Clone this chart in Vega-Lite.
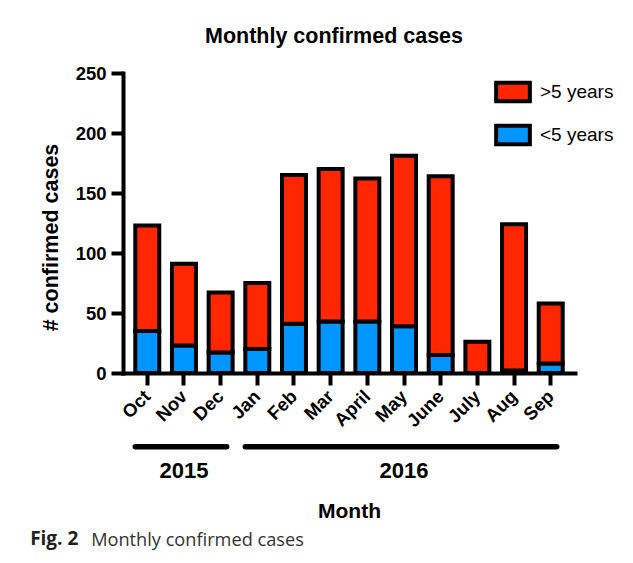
{
  "$schema": "https://vega.github.io/schema/vega-lite/v6.json",
  "padding": {"left": 30, "top": 25, "right": 5, "bottom": 5},
  "background": "white",
  "config": {
    "font": "Liberation Sans",
    "view": {"stroke": null},
    "concat": {"spacing": 0}
  },
  "datasets": {
    "cases": [
      {"month": "Oct", "group": "<5 years", "cases": 35},
      {"month": "Oct", "group": ">5 years", "cases": 88},
      {"month": "Nov", "group": "<5 years", "cases": 23},
      {"month": "Nov", "group": ">5 years", "cases": 68},
      {"month": "Dec", "group": "<5 years", "cases": 17},
      {"month": "Dec", "group": ">5 years", "cases": 50},
      {"month": "Jan", "group": "<5 years", "cases": 20},
      {"month": "Jan", "group": ">5 years", "cases": 55},
      {"month": "Feb", "group": "<5 years", "cases": 41},
      {"month": "Feb", "group": ">5 years", "cases": 124},
      {"month": "Mar", "group": "<5 years", "cases": 43},
      {"month": "Mar", "group": ">5 years", "cases": 127},
      {"month": "April", "group": "<5 years", "cases": 43},
      {"month": "April", "group": ">5 years", "cases": 119},
      {"month": "May", "group": "<5 years", "cases": 39},
      {"month": "May", "group": ">5 years", "cases": 142},
      {"month": "June", "group": "<5 years", "cases": 15},
      {"month": "June", "group": ">5 years", "cases": 149},
      {"month": "July", "group": "<5 years", "cases": 0},
      {"month": "July", "group": ">5 years", "cases": 26},
      {"month": "Aug", "group": "<5 years", "cases": 2},
      {"month": "Aug", "group": ">5 years", "cases": 122},
      {"month": "Sep", "group": "<5 years", "cases": 8},
      {"month": "Sep", "group": ">5 years", "cases": 50}
    ],
    "years": [
      {"year": "2015", "first": "Oct", "last": "Dec", "mid": "Nov"},
      {"year": "2016", "first": "Jan", "last": "Sep", "mid": "May"}
    ]
  },
  "title": {
    "text": "Fig. 2",
    "orient": "bottom",
    "anchor": "start",
    "frame": "bounds",
    "font": "Open Sans",
    "fontWeight": "bold",
    "fontSize": 19,
    "color": "#231F20",
    "baseline": "alphabetic",
    "dx": -10,
    "offset": -4
  },
  "vconcat": [
    {
      "title": {
        "text": "Monthly confirmed cases",
        "orient": "bottom",
        "anchor": "start",
        "frame": "bounds",
        "font": "Open Sans",
        "fontWeight": "normal",
        "fontSize": 18.2,
        "color": "#333333",
        "baseline": "alphabetic",
        "dx": 51,
        "offset": 25
      },
      "vconcat": [
        {
          "title": {
            "text": "Monthly confirmed cases",
            "font": "Liberation Sans",
            "fontSize": 21.5,
            "fontWeight": "bold",
            "color": "black",
            "anchor": "middle",
            "frame": "group",
            "baseline": "alphabetic",
            "dx": -15,
            "offset": 0
          },
          "width": 452,
          "height": 300,
          "layer": [
            {
              "data": {"name": "cases"},
              "mark": {"type": "bar", "stroke": "black", "strokeWidth": 4, "strokeJoin": "miter"},
              "encoding": {
                "x": {
                  "field": "month",
                  "type": "nominal",
                  "title": "Month",
                  "scale": {
                    "domain": ["Oct", "Nov", "Dec", "Jan", "Feb", "Mar", "April", "May", "June", "July", "Aug", "Sep"],
                    "paddingInner": 0.346,
                    "paddingOuter": 0.335
                  },
                  "axis": {
                    "title": "Month",
                    "domainColor": "black",
                    "domainWidth": 4,
                    "domainCap": "square",
                    "tickColor": "black",
                    "tickWidth": 4,
                    "tickSize": 12,
                    "labelAngle": -45,
                    "labelAlign": "right",
                    "labelBaseline": "middle",
                    "labelFontSize": 18.5,
                    "labelFontWeight": "bold",
                    "labelColor": "black",
                    "labelPadding": 8,
                    "titleFontSize": 21,
                    "titleFontWeight": "bold",
                    "titleColor": "black",
                    "titlePadding": 70
                  }
                },
                "y": {
                  "field": "cases",
                  "type": "quantitative",
                  "title": "# confirmed cases",
                  "stack": "zero",
                  "scale": {"domain": [0, 250], "nice": false},
                  "axis": {
                    "title": "# confirmed cases",
                    "values": [0, 50, 100, 150, 200, 250],
                    "grid": false,
                    "domainColor": "black",
                    "domainWidth": 4,
                    "domainCap": "square",
                    "tickColor": "black",
                    "tickWidth": 4,
                    "tickSize": 12,
                    "labelFontSize": 18.5,
                    "labelFontWeight": "bold",
                    "labelColor": "black",
                    "labelPadding": 5,
                    "labelFlush": false,
                    "labelOverlap": false,
                    "titleFontSize": 21.5,
                    "titleFontWeight": "bold",
                    "titleColor": "black",
                    "titlePadding": 13,
                    "titleY": 164
                  }
                },
                "color": {
                  "field": "group",
                  "type": "nominal",
                  "scale": {"domain": [">5 years", "<5 years"], "range": ["#FF2600", "#0096FF"]},
                  "legend": {
                    "orient": "none",
                    "legendX": 371,
                    "legendY": 0,
                    "title": null,
                    "symbolType": "M-1,-0.555H1V0.555H-1Z",
                    "symbolSize": 1136,
                    "symbolStrokeColor": "black",
                    "symbolStrokeWidth": 4,
                    "symbolOpacity": 1,
                    "labelFont": "Liberation Sans",
                    "labelFontSize": 19,
                    "labelColor": "black",
                    "labelOffset": 8,
                    "rowPadding": 6,
                    "padding": 0
                  }
                },
                "order": {"field": "group", "type": "nominal", "sort": "ascending"}
              }
            },
            {
              "data": {"name": "years"},
              "mark": {"type": "rule", "strokeWidth": 5.5, "strokeCap": "round", "color": "black"},
              "encoding": {
                "x": {"field": "first", "type": "nominal", "title": "Month", "bandPosition": 0},
                "x2": {"field": "last", "bandPosition": 0.75},
                "y": {"datum": -61.5, "title": "# confirmed cases"}
              }
            },
            {
              "data": {"name": "years"},
              "mark": {"type": "text", "fontSize": 22, "fontWeight": "bold", "baseline": "middle", "color": "black"},
              "encoding": {
                "x": {"field": "mid", "type": "nominal", "title": "Month"},
                "y": {"datum": -81.5, "title": "# confirmed cases"},
                "text": {"field": "year"}
              }
            }
          ]
        }
      ]
    }
  ]
}
